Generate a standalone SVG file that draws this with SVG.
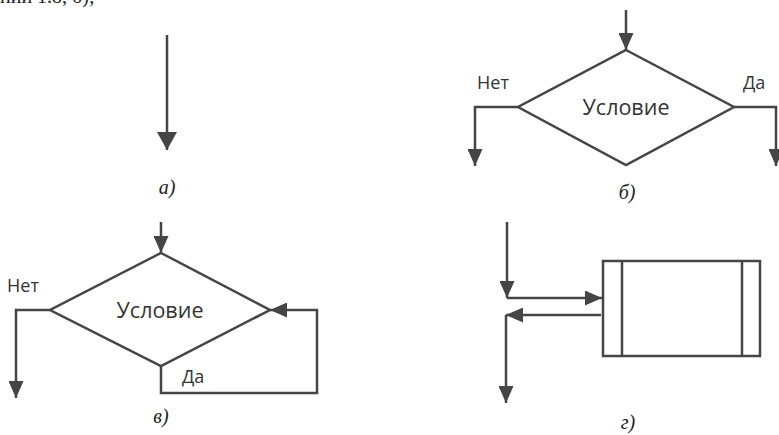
<svg xmlns="http://www.w3.org/2000/svg" width="779" height="435" viewBox="0 0 779 435">
<defs>
<style>
.ln{fill:none;stroke:#454545;stroke-width:2.5;stroke-linejoin:miter}
.sh{fill:#fff;stroke:#454545;stroke-width:2.5}
.t{font-family:"Open Sans","Noto Sans","DejaVu Sans",sans-serif;fill:#333;}
.cap{font-family:"Liberation Serif",serif;font-style:italic;font-size:20px;fill:#222;text-anchor:middle}
</style>
<marker id="ah" markerUnits="userSpaceOnUse" markerWidth="17" markerHeight="15" refX="17" refY="7.5" orient="auto" viewBox="0 0 17 15">
<path d="M0,0 L17,7.5 L0,15 z" fill="#454545"/>
</marker>
<marker id="ahb" markerUnits="userSpaceOnUse" markerWidth="18" markerHeight="20" refX="18" refY="10" orient="auto" viewBox="0 0 18 20">
<path d="M0,0 L18,10 L0,20 z" fill="#454545"/>
</marker>
</defs>
<text x="0" y="3" style="font-family:'Liberation Serif',serif;font-size:20px;fill:#222">нии 1.8, б);</text>

<g id="panel-a">
<line class="ln" x1="167" y1="35" x2="167" y2="150" marker-end="url(#ahb)"/>
<text class="cap" x="167" y="194">а)</text>
</g>

<g id="panel-b">
<g id="cond-b">
<polygon class="sh" points="626,50 734,107 626,165 518,107"/>
<text class="t" x="626" y="115" font-size="21.5" text-anchor="middle">Условие</text>
</g>
<text class="t" x="477" y="89" font-size="18">Нет</text>
<text class="t" x="743" y="89" font-size="18">Да</text>
<text class="cap" x="627" y="199">б)</text>
</g>

<g id="panel-v">
<g id="cond-v">
<polygon class="sh" points="161,253 270,310 161,366 50,310"/>
<text class="t" x="160" y="318" font-size="21.5" text-anchor="middle">Условие</text>
</g>
<text class="t" x="7" y="292" font-size="18">Нет</text>
<text class="t" x="182" y="383" font-size="18">Да</text>
<text class="cap" x="161" y="423">в)</text>
</g>

<g id="panel-g">
<g id="proc-g">
<rect class="sh" x="603" y="261" width="157" height="95"/>
<line class="ln" x1="622" y1="261" x2="622" y2="356"/>
<line class="ln" x1="742" y1="261" x2="742" y2="356"/>
</g>
<text class="cap" x="628" y="429">г)</text>
</g>

<g id="connectors">
<line class="ln" x1="626" y1="10" x2="626" y2="50" marker-end="url(#ah)"/>
<polyline class="ln" points="518,107 475,107 475,166" marker-end="url(#ah)"/>
<polyline class="ln" points="734,107 776,107 776,166" marker-end="url(#ah)"/>
<line class="ln" x1="161" y1="222" x2="161" y2="253" marker-end="url(#ah)"/>
<polyline class="ln" points="50,310 16,310 16,398" marker-end="url(#ah)"/>
<polyline class="ln" points="161,366 161,393 317,393 317,310 270,310" marker-end="url(#ah)"/>
<line class="ln" x1="507" y1="222" x2="507" y2="298" marker-end="url(#ah)"/>
<line class="ln" x1="507" y1="298" x2="602" y2="298" marker-end="url(#ah)"/>
<line class="ln" x1="601" y1="315" x2="506" y2="315" marker-end="url(#ah)"/>
<line class="ln" x1="506" y1="315" x2="506" y2="403" marker-end="url(#ah)"/>
</g>
</svg>
